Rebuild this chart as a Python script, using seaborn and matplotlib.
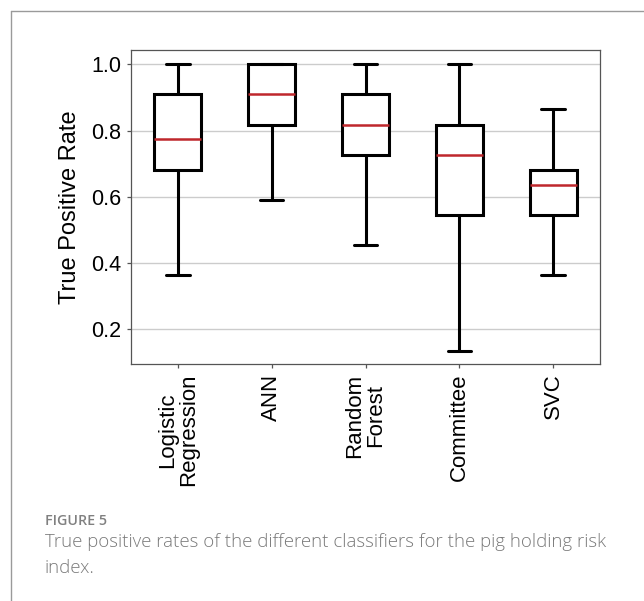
import matplotlib
matplotlib.use("Agg")
import matplotlib.pyplot as plt
from matplotlib.lines import Line2D
import seaborn as sns
import pandas as pd

# ---- data (five-number summaries) ----
classifiers = ["Logistic\nRegression", "ANN", "Random\nForest", "Committee", "SVC"]
tpr_min = [0.364, 0.591, 0.455, 0.136, 0.364]
tpr_q1 = [0.682, 0.818, 0.727, 0.545, 0.545]
tpr_median = [0.773, 0.909, 0.818, 0.727, 0.636]
tpr_q3 = [0.909, 1.000, 0.909, 0.818, 0.682]
tpr_max = [1.000, 1.000, 1.000, 1.000, 0.864]
y_ticks = [0.2, 0.4, 0.6, 0.8, 1.0]

rows = []
for i, name in enumerate(classifiers):
    for v in (tpr_min[i], tpr_q1[i], tpr_median[i], tpr_q3[i], tpr_max[i]):
        rows.append({"classifier": name, "tpr": v})
df = pd.DataFrame(rows)

sns.set_theme(style="white")
plt.rcParams["font.family"] = ["Liberation Sans", "DejaVu Sans"]

W, H = 644, 601
fig = plt.figure(figsize=(W / 100, H / 100), dpi=100)
ax = fig.add_axes([131 / W, 1 - 364 / H, 469 / W, 314 / H])

sns.boxplot(
    data=df, x="classifier", y="tpr", order=classifiers, ax=ax,
    whis=(0, 100), width=0.5, color="white", saturation=1,
    linecolor="black", linewidth=2.2, fliersize=0,
    medianprops=dict(color="#bf272c", linewidth=1.8),
)

ax.set_ylim(0.0953, 1.043)
ax.set_xlim(-0.5, 4.5)
ax.set_yticks(y_ticks)
ax.set_yticklabels([f"{t:.1f}" for t in y_ticks])
ax.set_axisbelow(True)
ax.yaxis.grid(True, color="#cccccc", linewidth=1.0)
ax.xaxis.grid(False)
for s in ax.spines.values():
    s.set_color("#555555")
    s.set_linewidth(0.9)
ax.tick_params(axis="both", which="major", length=3, width=0.9, color="#555555",
               bottom=True, left=True, pad=4)
ax.tick_params(axis="y", labelsize=15.5, labelcolor="black")
ax.tick_params(axis="x", labelsize=16, labelcolor="black")
for lab in ax.get_xticklabels():
    lab.set_rotation(90)
    lab.set_linespacing(1.0)
    lab.set_ha("center")
    lab.set_va("top")
ax.set_xlabel("")
ax.set_ylabel("True Positive Rate", fontsize=17, color="black", labelpad=7)

# page-style frame lines
fig.add_artist(Line2D([11 / W, 11 / W], [0, 1 - 11 / H], transform=fig.transFigure,
                      color="#9a9a9a", linewidth=1))
fig.add_artist(Line2D([11 / W, 1], [1 - 11 / H, 1 - 11 / H], transform=fig.transFigure,
                      color="#9a9a9a", linewidth=1))

# caption
cap_font = ["Open Sans", "DejaVu Sans"]
fig.text(45 / W, 1 - 521 / H, "FIGURE 5", fontsize=10.3, color="#808080",
         family=cap_font, weight="semibold", va="center", ha="left")
fig.text(45 / W, 1 - 542 / H,
         "True positive rates of the different classifiers for the pig holding risk",
         fontsize=13.4, color="#7a7a7a", family=cap_font, weight="light",
         va="center", ha="left")
fig.text(45 / W, 1 - 568 / H, "index.", fontsize=13.4, color="#7a7a7a",
         family=cap_font, weight="light", va="center", ha="left")

fig.savefig("out.png", dpi=100)
